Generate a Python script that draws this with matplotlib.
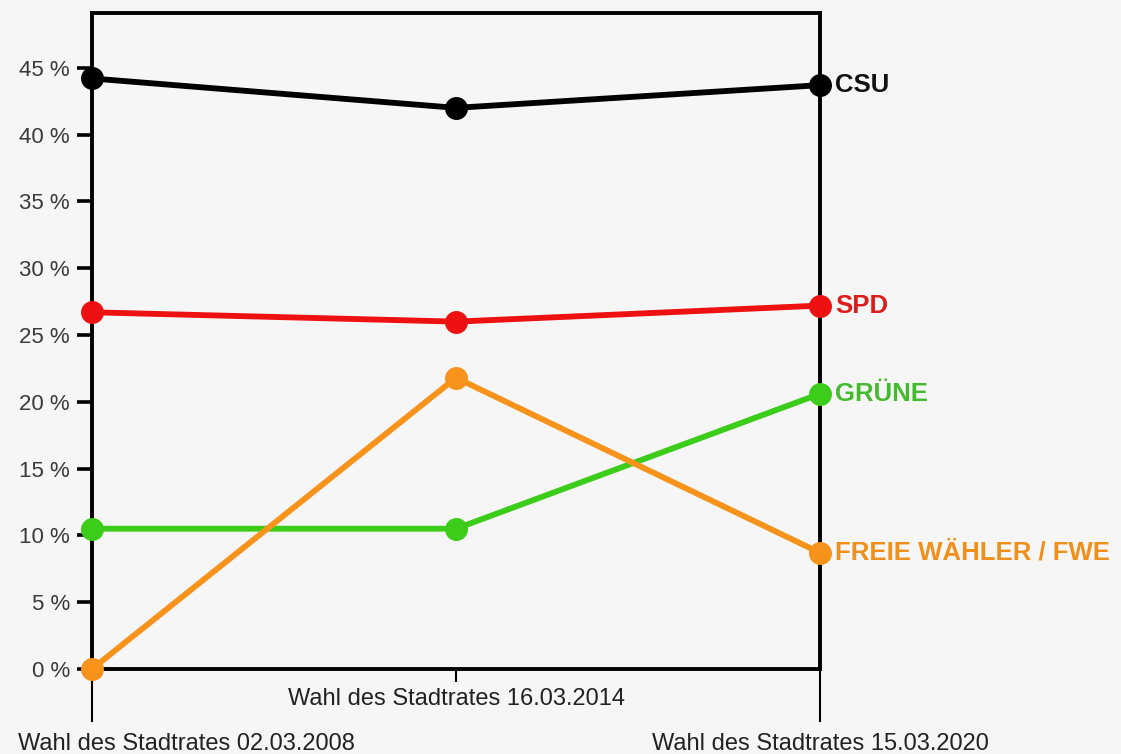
import matplotlib
matplotlib.use('Agg')
import matplotlib.pyplot as plt
import matplotlib.transforms as mtransforms

# election dates and vote shares (percent)
elections = ['Wahl des Stadtrates 02.03.2008',
             'Wahl des Stadtrates 16.03.2014',
             'Wahl des Stadtrates 15.03.2020']
parties = ['CSU', 'SPD', 'GRÜNE', 'FREIE WÄHLER / FWE']
csu = [44.2, 42.0, 43.7]
spd = [26.7, 26.0, 27.2]
gruene = [10.5, 10.5, 20.6]
fwe = [0.0, 21.8, 8.7]
y_ticks = [0, 5, 10, 15, 20, 25, 30, 35, 40, 45]

line_colors = ['#000000', '#ee1111', '#3ccc1a', '#f7921a']
label_colors = ['#111111', '#dd1c1c', '#44bb2e', '#f0901c']

plt.rcParams['font.family'] = ['Liberation Sans', 'DejaVu Sans']

bg = '#f6f6f6'
fig = plt.figure(figsize=(11.21, 7.54), dpi=100, facecolor=bg)
W, H = 1121, 754
ax = fig.add_axes([92 / W, 1 - 669 / H, (820 - 92) / W, (669 - 13) / H])
ax.set_facecolor(bg)

x = list(range(len(elections)))
for vals, name, lc, tc in zip([csu, spd, gruene, fwe], parties, line_colors, label_colors):
    ax.plot(x, vals, color=lc, lw=4.2, marker='o', ms=15.5, clip_on=False, zorder=5)
    ax.annotate(name, (x[-1], vals[-1]), xytext=(11, 0), textcoords='offset points',
                ha='left', va='center', color=tc, fontsize=18.5, fontweight='bold',
                annotation_clip=False)

ax.set_xlim(0, 2)
ax.set_ylim(0, 49.1)

for sp in ax.spines.values():
    sp.set_linewidth(2.8)
    sp.set_color('black')

ax.set_yticks(y_ticks)
ax.set_yticklabels([f'{v} %' for v in y_ticks])
ax.tick_params(axis='y', length=11, width=2.6, pad=5, labelsize=16, labelcolor='#3a3a3a')

# outer elections get long ticks, middle one a short tick
ax.set_xticks([0, 2])
ax.set_xticklabels([elections[0], elections[2]])
ax.set_xticks([1], minor=True)
ax.set_xticklabels([elections[1]], minor=True)
ax.tick_params(axis='x', which='major', length=38, width=1.5, pad=8,
               labelsize=17, labelcolor='#222222')
ax.tick_params(axis='x', which='minor', length=9, width=1.5, pad=5,
               labelsize=17, labelcolor='#222222')

# first label is pushed right so it stays inside the figure
first = ax.get_xticklabels()[0]
first.set_horizontalalignment('left')
first.set_transform(first.get_transform() +
                    mtransforms.ScaledTranslation(-74 / 100, 0, fig.dpi_scale_trans))

fig.savefig('out.png', dpi=100, facecolor=bg)
